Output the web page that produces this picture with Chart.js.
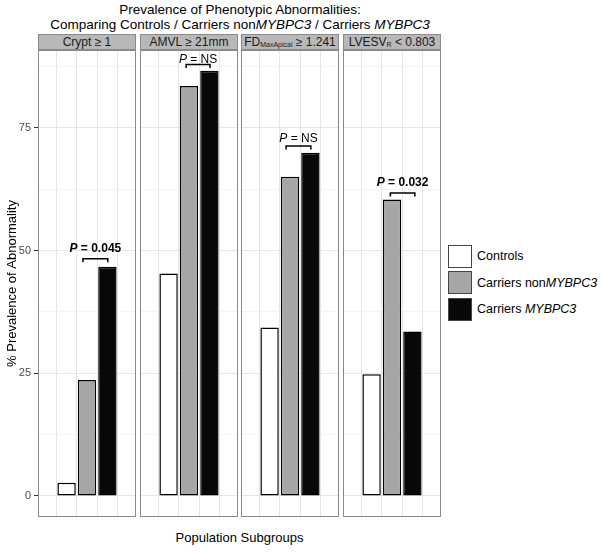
<!DOCTYPE html>
<html lang="en">
  <head>
    <meta charset="UTF-8" />
    <title>Prevalence of Phenotypic Abnormalities</title>
    <script src="https://cdn.jsdelivr.net/npm/chart.js"></script>
    <style>
      * {
        box-sizing: border-box;
      }

      body {
        margin: 0;
        background: #fff;
        font-family: "Liberation Sans", Arial, sans-serif;
        color: #000;
      }

      .stage {
        position: relative;
        width: 601px;
        height: 552px;
        overflow: hidden;
      }

      .title {
        position: absolute;
        left: 0;
        width: 480px;
        text-align: center;
        font-size: 13.5px;
        line-height: 16px;
        white-space: nowrap;
      }

      .strip {
        position: absolute;
        top: 34px;
        height: 16px;
        background: #b8b8b8;
        border: 1px solid #8a8a8a;
        text-align: center;
        font-size: 12px;
        line-height: 14px;
        color: #1a1a1a;
        white-space: nowrap;
      }

      .strip sub {
        font-size: 7px;
        vertical-align: -1px;
        line-height: 0;
      }

      canvas {
        position: absolute;
      }

      .xtitle {
        position: absolute;
        top: 530px;
        left: 38px;
        width: 403px;
        text-align: center;
        font-size: 13px;
      }

      .legend {
        position: absolute;
        left: 448px;
        top: 243px;
      }

      .legend .item {
        display: flex;
        align-items: center;
        height: 26.5px;
        font-size: 12.5px;
        white-space: nowrap;
      }

      .legend .key {
        width: 24px;
        height: 23px;
        border: 1px solid #444;
        margin-right: 5px;
      }
    </style>
  </head>

  <body>
    <div class="stage" id="stage">
      <div class="title" style="top: 2px">Prevalence of Phenotypic Abnormalities:</div>
      <div class="title" style="top: 17px">Comparing Controls / Carriers non<i>MYBPC3</i> / Carriers <i>MYBPC3</i></div>
      <div class="xtitle">Population Subgroups</div>
      <div class="legend" id="legend"></div>
    </div>

    <script>
      // facets (strip labels, html for subscripts)
      const facetLabels = [
        "Crypt ≥ 1",
        "AMVL ≥ 21mm",
        "FD<sub>MaxApical</sub> ≥ 1.241",
        "LVESV<sub>R</sub> &lt; 0.803",
      ];

      const groupLabels = [
        "Controls",
        "Carriers non<i>MYBPC3</i>",
        "Carriers <i>MYBPC3</i>",
      ];
      const groupColors = ["#ffffff", "#a6a6a6", "#080808"];

      // % prevalence per facet
      const controls = [2.7, 45.3, 34.3, 24.8];
      const carriersNon = [23.6, 83.5, 65.0, 60.4];
      const carriersMybpc3 = [46.7, 86.6, 69.9, 33.5];

      const yTicks = [0, 25, 50, 75];

      // p-value annotations (nonMYBPC3 vs MYBPC3)
      const pValues = ["0.045", "NS", "NS", "0.032"];
      const pBold = [true, false, false, true];
      const bracketFrom = [0.8, 0.86, 0.81, 0.92];
      const bracketTo = [2.02, 2.03, 2.02, 2.12];
      const bracketY = [48.3, 87.9, 71.3, 61.7];
      const pLabelY = [49.7, 88.3, 72.2, 63.2];

      const panelLeft = [38, 140, 241, 343];
      const panelWidth = 98;
      const panelTop = 50;
      const panelHeight = 467;
      const axisWidth = 38;

      const stage = document.getElementById("stage");

      // legend
      document.getElementById("legend").innerHTML = groupLabels
        .map(
          (g, i) =>
            `<div class="item"><div class="key" style="background:${groupColors[i]}"></div><span>${g}</span></div>`
        )
        .join("");

      const minorTicks = [];
      yTicks.forEach((t) => {
        minorTicks.push(t, t + 12.5);
      });

      const annotationPlugin = (i) => ({
        id: "pvals" + i,
        afterDatasetsDraw(chart) {
          const { ctx, scales, chartArea } = chart;
          const x1 = scales.x.getPixelForValue(bracketFrom[i]);
          const x2 = scales.x.getPixelForValue(bracketTo[i]);
          const yb = scales.y.getPixelForValue(bracketY[i]);
          ctx.save();
          ctx.strokeStyle = "#000";
          ctx.lineWidth = 1.5;
          ctx.beginPath();
          ctx.moveTo(x1, yb + 3.5);
          ctx.lineTo(x1, yb);
          ctx.lineTo(x2, yb);
          ctx.lineTo(x2, yb + 3.5);
          ctx.stroke();

          const weight = pBold[i] ? "bold " : "";
          const fam = '12px "Liberation Sans", Arial, sans-serif';
          const pFont = "italic " + weight + fam;
          const restFont = weight + fam;
          const rest = " = " + pValues[i];
          ctx.font = pFont;
          const wP = ctx.measureText("P").width;
          ctx.font = restFont;
          const wR = ctx.measureText(rest).width;
          const cx = (x1 + x2) / 2;
          const yl = scales.y.getPixelForValue(pLabelY[i]);
          let sx = cx - (wP + wR) / 2;
          ctx.fillStyle = "#000";
          ctx.textBaseline = "alphabetic";
          ctx.textAlign = "left";
          ctx.font = pFont;
          ctx.fillText("P", sx, yl);
          ctx.font = restFont;
          ctx.fillText(rest, sx + wP, yl);

          // panel border
          ctx.strokeStyle = "#8a8a8a";
          ctx.lineWidth = 1;
          ctx.strokeRect(
            chartArea.left + 0.5,
            chartArea.top + 0.5,
            chartArea.right - chartArea.left - 1,
            chartArea.bottom - chartArea.top - 1
          );
          ctx.restore();
        },
      });

      facetLabels.forEach((label, i) => {
        const strip = document.createElement("div");
        strip.className = "strip";
        strip.style.left = panelLeft[i] + "px";
        strip.style.width = panelWidth + "px";
        strip.style.top = panelTop - 16 + "px";
        strip.innerHTML = label;
        stage.appendChild(strip);

        const first = i === 0;
        const canvas = document.createElement("canvas");
        const left = first ? panelLeft[i] - axisWidth : panelLeft[i];
        const width = first ? panelWidth + axisWidth : panelWidth;
        canvas.width = width;
        canvas.height = panelHeight;
        canvas.style.left = left + "px";
        canvas.style.top = panelTop + "px";
        canvas.style.width = width + "px";
        canvas.style.height = panelHeight + "px";
        stage.appendChild(canvas);

        new Chart(canvas.getContext("2d"), {
          type: "bar",
          data: {
            datasets: [
              {
                data: [
                  { x: 0, y: controls[i] },
                  { x: 1, y: carriersNon[i] },
                  { x: 2, y: carriersMybpc3[i] },
                ],
                backgroundColor: groupColors,
                borderColor: "#000",
                borderWidth: 1.5,
                borderSkipped: false,
                barPercentage: 0.9,
                categoryPercentage: 1,
              },
            ],
          },
          options: {
            responsive: false,
            animation: false,
            layout: { padding: 0 },
            plugins: {
              legend: { display: false },
              tooltip: { enabled: false },
            },
            scales: {
              x: {
                type: "linear",
                min: -0.6,
                max: 2.6,
                afterBuildTicks: (scale) => {
                  scale.ticks = [0, 1, 2].map((v) => ({ value: v }));
                },
                afterFit: (scale) => {
                  scale.height = 0;
                  scale.paddingLeft = 0;
                  scale.paddingRight = 0;
                },
                ticks: { display: false },
                border: { display: false },
                grid: { color: "#e6e6e6", drawTicks: false },
              },
              y: {
                min: -4.3,
                max: 90.85,
                afterBuildTicks: (scale) => {
                  scale.ticks = minorTicks.map((v) => ({ value: v }));
                },
                afterFit: (scale) => {
                  scale.width = first ? axisWidth : 0;
                  scale.paddingTop = 0;
                  scale.paddingBottom = 0;
                },
                border: { display: false },
                grid: {
                  color: (c) =>
                    yTicks.includes(c.tick.value) ? "#e6e6e6" : "#f3f3f3",
                  drawTicks: first,
                  tickLength: 4,
                  tickColor: (c) =>
                    yTicks.includes(c.tick.value) ? "#333" : "rgba(0,0,0,0)",
                },
                ticks: {
                  display: first,
                  padding: 3,
                  color: "#4d4d4d",
                  font: { family: "Liberation Sans", size: 11 },
                  callback: (v) => (yTicks.includes(v) ? String(v) : ""),
                },
                title: {
                  display: first,
                  text: "% Prevalence of Abnormality",
                  color: "#000",
                  font: { family: "Liberation Sans", size: 13 },
                  padding: { top: 5, bottom: 0 },
                },
              },
            },
          },
          plugins: [annotationPlugin(i)],
        });
      });
    </script>
  </body>
</html>
